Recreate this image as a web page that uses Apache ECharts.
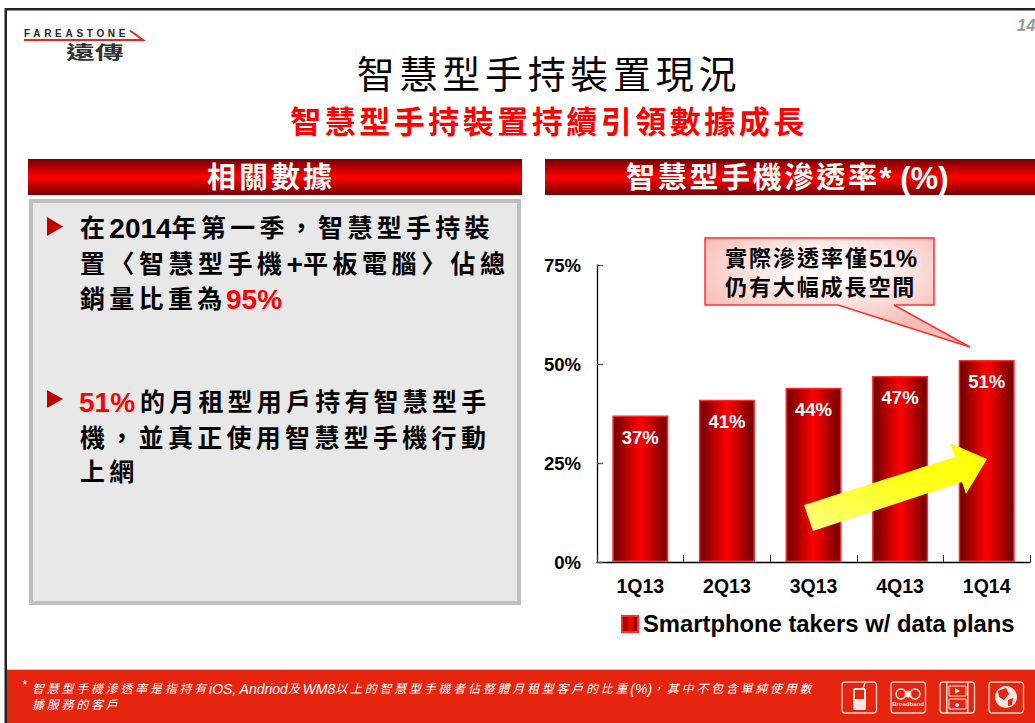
<!DOCTYPE html>
<html><head><meta charset="utf-8">
<style>html,body{margin:0;padding:0;background:#fff;overflow:hidden}#c{width:1035px;height:723px}</style>
<script src="https://cdn.jsdelivr.net/npm/echarts@6/dist/echarts.min.js"></script>
</head><body><div id="c"></div>
<script>
const categories = ['1Q13','2Q13','3Q13','4Q13','1Q14'];
const penetration = [37,41,44,47,51];
const yMax = 75, yStep = 25;
const seriesName = 'Smartphone takers w/ data plans';
const pageTitle = '智慧型手持裝置現況';
const pageSubtitle = '智慧型手持裝置持續引領數據成長';
const leftHeader = '相關數據';
const rightHeader = '智慧型手機滲透率* (%)';
const calloutLines = ['實際滲透率僅51%','仍有大幅成長空間'];
const footnoteLines = ['智慧型手機滲透率是指持有iOS, Andriod及WM8以上的智慧型手機者佔整體月租型客戶的比重(%)\uFF0C其中不包含單純使用數','據服務的客戶'];

const FONT = '"Liberation Sans","Noto Sans CJK TC",sans-serif';
const spacing = {};
const g = [];
function text(s,x,y,size,color,o){
  o=o||{};
  if(o.sp||o.lat) spacing[s]={sp:o.sp||0,lat:o.lat||size,latSp:o.latSp||0};
  const el={type:'text',z:o.z||10,silent:true,x:x,y:y,style:{text:s,fill:color,fontFamily:FONT,fontSize:size,
    fontWeight:o.w||'bold',fontStyle:o.i?'italic':'normal',textAlign:o.a||'left',textVerticalAlign:'middle'}};
  if(o.sx) el.scaleX=o.sx;
  g.push(el);
}
function rect(x,y,w,h,style,z,r){g.push({type:'rect',z:z||1,silent:true,shape:{x:x,y:y,width:w,height:h,r:r||0},style:style});}
function poly(pts,style,z){g.push({type:'polygon',z:z||5,silent:true,shape:{points:pts},style:style});}
function line(pts,style,z){g.push({type:'polyline',z:z||5,silent:true,shape:{points:pts},style:style});}
function circle(cx,cy,r,style,z){g.push({type:'circle',z:z||5,silent:true,shape:{cx:cx,cy:cy,r:r},style:style});}
const grad=(x,y,x2,y2,stops)=>({type:'linear',x:x,y:y,x2:x2,y2:y2,colorStops:stops.map(s=>({offset:s[0],color:s[1]}))});

// frame
rect(5,8,1030,2.5,{fill:'#222'},1);
rect(4.5,8,2.5,715,{fill:'#222'},1);
// page number
text('14',1017,25,16.5,'#999',{i:true});
// logo
text('FAREASTONE',24,33,10,'#222',{lat:10,latSp:3.7});
line([[24,40],[143,40],[130,30.5]],{stroke:'#E8281A',fill:null,lineWidth:2});
text('遠傳',66,53,18,'#333',{sx:1.6});
// titles
text(pageTitle,549,75,38,'#000',{a:'center',sp:4.7,w:'normal'});
text(pageSubtitle,549,122,31,'#FF0000',{a:'center',sp:3.5});
// header bars
const hdr=grad(0,0,0,1,[[0,'#760000'],[0.5,'#FF0000'],[1,'#760000']]);
rect(28,159,494,36,{fill:hdr});
rect(545,159,490,36,{fill:hdr});
text(leftHeader,271,178,29,'#fff',{a:'center',sp:3});
text(rightHeader,626,178,29,'#fff',{sp:2.7,lat:31});
// left panel
rect(31,201,488,402,{fill:'#E8E8E8',stroke:'#BFBFBF',lineWidth:4});
poly([[47,217],[63,226.5],[47,236]],{fill:'#C00000'});
poly([[47,390],[63,399],[47,408]],{fill:'#C00000'});
const L=80;
text('在2014年第一季\uFF0C智慧型手持裝',L,228,25,'#000',{sp:4.3,lat:28});
text('置〈智慧型手機+平板電腦〉佔總',L,264,25,'#000',{sp:4.5,lat:28});
text('銷量比重為',L,299,25,'#000',{sp:4.3});
text('95%',226,299,28,'#FF0000');
text('51%',79,402,28,'#FF0000');
text('的月租型用戶持有智慧型手',140,402,25,'#000',{sp:4.2});
text('機\uFF0C並真正使用智慧型手機行動',L,438,25,'#000',{sp:4.3});
text('上網',L,472,25,'#000',{sp:4.3});
// callout
poly([[705,238],[934,238],[934,305],[894,305],[970,347],[838,305],[705,305]],{
  fill:{type:'radial',x:0.47,y:0.3,r:0.55,colorStops:[{offset:0,color:'#FFFFFF'},{offset:0.3,color:'#FFF6F4'},{offset:1,color:'#F7BDB6'}]},
  stroke:'#FF3030',lineWidth:1.5},20);
text(calloutLines[0],725,258,22,'#000',{sp:2,lat:24,z:21});
text(calloutLines[1],725,287,22,'#000',{sp:1.9,z:21});
// arrow
poly([[804,505],[955,457],[950,443],[987,459],[966,494],[962,482],[813,531]],{
  fill:grad(0,1,1,0,[[0,'#FFFF80'],[0.5,'#FFFF20'],[1,'#FFFF00']])},30);
// footer
rect(7,669,1028,1,{fill:'#F3B5AE'},1);
rect(7,670,1028,53,{fill:'#E6250F'},1);
text('*',22,685,12,'#fff',{i:true,w:'normal'});
text(footnoteLines[0],32,689,12,'#fff',{i:true,w:'normal',sp:2.75,lat:14});
text(footnoteLines[1],32,705,12,'#fff',{i:true,w:'normal',sp:2.75});
// icons
const W={fill:'rgba(0,0,0,0)',stroke:'#FBD9D4',lineWidth:1.3};
[842,891,940,989].forEach(x=>rect(x,682,34.5,31,W,3,3));
// phone
rect(853,688,13,22,{fill:'#FBE6E2'},4,2); rect(855,690,9,9,{fill:'#E6250F'},5);
line([[863,688],[865,683]],{stroke:'#FBE6E2',lineWidth:1.5,fill:null});
// broadband
circle(901,694,5,{fill:'none',stroke:'#FBE6E2',lineWidth:1.5});
circle(915,694,5,{fill:'none',stroke:'#FBE6E2',lineWidth:1.5});
circle(908,694,3.5,{fill:'#FBE6E2'});
text('Broadband',908,704,6,'#FBE6E2',{a:'center'});
// film
rect(946,682,1.5,31,{fill:'#FBE6E2'},4); rect(967,682,1.5,31,{fill:'#FBE6E2'},4);
rect(949,686,17,10,{fill:'none',stroke:'#FBE6E2',lineWidth:1},4);
rect(949,699,17,10,{fill:'none',stroke:'#FBE6E2',lineWidth:1},4);
poly([[955,688],[960,691],[955,694]],{fill:'#FBE6E2'});
circle(957,705,2,{fill:'#FBE6E2'});
// globe
circle(1006,697,11,{fill:'#FBE6E2'});
poly([[998,691],[1006,688],[1009,694],[1004,700],[999,697]],{fill:'#E6250F'});
poly([[1008,700],[1013,698],[1012,705],[1008,706]],{fill:'#E6250F'});

const barFill=grad(0,0,1,0,[[0,'#6E0000'],[0.5,'#FF0000'],[1,'#6E0000']]);
const chart=echarts.init(document.getElementById('c'),null,{renderer:'svg',width:1035,height:723});
chart.setOption({
  animation:false,
  backgroundColor:'#fff',
  textStyle:{fontFamily:FONT},
  grid:{left:597,top:265,width:433,height:297,containLabel:false},
  legend:{left:616,top:607,itemWidth:16,itemHeight:16,itemGap:6,icon:'rect',data:[seriesName],
    textStyle:{color:'#000',fontFamily:FONT,fontWeight:'bold',fontSize:23.8}},
  xAxis:{type:'category',data:categories,
    axisLine:{lineStyle:{color:'#000',width:1.3}},
    axisTick:{show:true,inside:true,length:7,lineStyle:{color:'#333',width:1}},
    axisLabel:{color:'#000',fontFamily:FONT,fontWeight:'bold',fontSize:19.5,margin:14}},
  yAxis:{type:'value',min:0,max:yMax,interval:yStep,
    splitLine:{show:false},
    axisLine:{show:true,lineStyle:{color:'#000',width:1.3}},
    axisTick:{show:true,inside:true,length:6,lineStyle:{color:'#555',width:1.3}},
    axisLabel:{color:'#000',fontFamily:FONT,fontWeight:'bold',fontSize:18.5,margin:16,formatter:'{value}%'}},
  series:[{type:'bar',name:seriesName,data:penetration,barWidth:56,
    itemStyle:{color:barFill,borderColor:'#FF2A2A',borderWidth:1.5},
    label:{show:true,position:'insideTop',distance:12.5,color:'#fff',fontFamily:FONT,fontWeight:'bold',fontSize:18.5,formatter:'{c}%'}}],
  graphic:{elements:g}
});
const NS='http://www.w3.org/2000/svg';
function applySpacing(){
  document.querySelectorAll('#c text').forEach(el=>{
    const s=spacing[el.textContent];
    if(!s||el.querySelector('tspan[data-run]')) return;
    const runs=el.textContent.split(/([\x20-\x7e]+)/).filter(r=>r.length);
    el.textContent='';
    el.style.whiteSpace='pre';
    runs.forEach(r=>{
      const t=document.createElementNS(NS,'tspan');
      t.setAttribute('data-run','1');
      t.textContent=r;
      if(/^[\x20-\x7e]+$/.test(r)){t.style.fontSize=s.lat+'px';t.style.letterSpacing=s.latSp+'px';}
      else {t.style.letterSpacing=s.sp+'px';}
      el.appendChild(t);
    });
  });
}
chart.on('finished',applySpacing);
applySpacing();
requestAnimationFrame(applySpacing);
setTimeout(applySpacing,100);
</script></body></html>
